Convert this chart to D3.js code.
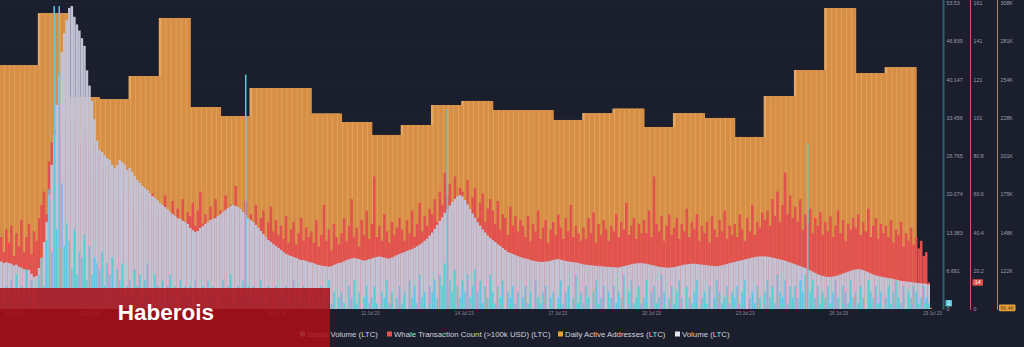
<!DOCTYPE html>
<html><head><meta charset="utf-8">
<script src="https://cdn.jsdelivr.net/npm/d3@7"></script>
<style>
html,body{margin:0;padding:0;background:#1b1e2d;}
svg{display:block}
</style></head><body>
<svg id="c" width="1024" height="347"></svg>
<script>
// ---------------- DATA ----------------
const startUTC = "2023-06-28T18:00:00Z";   // first 2-hour slot
const stepHours = 2;

const dayStarts = ["2023-06-28","2023-06-29","2023-06-30","2023-07-01","2023-07-02","2023-07-03","2023-07-04","2023-07-05","2023-07-06","2023-07-07","2023-07-08","2023-07-09","2023-07-10","2023-07-11","2023-07-12","2023-07-13","2023-07-14","2023-07-15","2023-07-16","2023-07-17","2023-07-18","2023-07-19","2023-07-20","2023-07-21","2023-07-22","2023-07-23","2023-07-24","2023-07-25","2023-07-26","2023-07-27","2023-07-28","2023-07-29"];
const dailyActive = [264900,264900,301000,242700,241300,257300,297600,235800,229500,249000,249000,231300,225400,216400,223300,237200,240000,233700,233700,226800,231600,234700,221900,231600,228200,215000,243400,261500,304500,259400,263500,96400];

// Volume (LTC) – relative units (no axis shown)
const volume = [
15.5,15.0,15.3,
15.0,14.8,14.2,14.5,13.8,13.5,13.0,12.5,12.8,11.5,10.5,10.8,
13.4,16.7,21.9,28.4,37.3,47.1,56.9,66.7,76.5,84.0,90.2,94.4,
98.4,99.0,95.5,93.0,91.0,88.5,86.0,78.0,73.0,68.0,62.0,55.0,
52.0,51.3,50.3,49.3,48.7,47.1,46.1,47.1,48.7,48.0,47.1,45.4,
46.1,44.8,43.5,42.2,41.2,40.2,39.5,38.9,37.9,36.9,36.3,35.6,
34.6,34.0,33.3,32.7,31.7,31.0,30.4,29.7,29.4,28.8,28.4,27.8,
26.5,25.8,25.2,25.5,26.5,27.1,27.8,28.4,29.1,29.4,29.7,30.4,
31.0,31.7,32.4,33.0,33.7,34.0,33.7,33.3,32.7,31.7,30.7,29.7,
29.1,28.4,27.5,26.5,25.5,24.5,23.5,22.5,21.9,21.2,20.6,19.9,
19.3,18.6,18.0,17.6,17.3,17.0,16.7,16.3,16.0,16.0,15.7,15.4,
15.2,15.0,14.6,14.4,14.2,14.0,14.0,13.8,14.0,14.4,14.8,15.0,
15.2,15.6,16.0,16.3,16.5,16.7,16.5,16.3,16.0,15.8,16.0,16.3,
16.5,16.8,17.0,17.2,17.0,16.8,16.6,16.5,16.8,17.2,17.6,18.0,
18.3,18.6,19.0,19.3,19.6,20.0,20.5,21.0,21.6,22.3,23.0,24.0,
25.0,26.2,27.5,28.8,30.0,31.4,32.6,33.8,35.0,36.0,36.8,37.2,
36.8,35.6,34.2,32.7,31.2,29.8,28.4,27.2,26.0,25.0,24.0,23.2,
22.5,21.9,21.2,20.6,19.9,19.3,18.6,18.3,18.0,17.6,17.3,17.0,
16.7,16.5,16.3,16.0,15.8,15.6,15.5,15.4,15.4,15.5,15.6,15.8,
16.0,16.2,16.3,16.1,15.9,15.7,15.5,15.4,15.3,15.2,15.0,14.8,
14.6,14.5,14.4,14.3,14.2,14.1,14.0,14.0,13.9,13.8,13.8,13.7,
13.7,13.6,13.6,13.8,14.0,14.2,14.4,14.6,14.8,14.9,15.0,15.0,
14.9,14.8,14.6,14.4,14.2,14.0,13.8,13.7,13.6,13.5,13.5,13.6,
13.7,13.9,14.1,14.3,14.5,14.6,14.7,14.8,14.8,14.7,14.6,14.5,
14.4,14.3,14.2,14.1,14.0,14.0,14.1,14.3,14.5,14.7,15.0,15.2,
15.4,15.6,15.8,16.0,16.2,16.4,16.6,16.8,17.0,17.1,17.2,17.2,
17.2,17.1,17.0,16.8,16.6,16.4,16.2,16.0,15.8,15.5,15.2,14.9,
14.6,14.3,14.0,13.7,13.4,13.0,12.6,12.2,11.8,11.4,11.0,10.8,
10.6,10.5,10.5,10.6,10.8,11.0,11.3,11.6,11.9,12.2,12.5,12.8,
12.9,13.0,12.9,12.7,12.4,12.0,11.6,11.3,11.0,10.8,10.6,10.4,
10.3,10.1,10.0,9.8,9.6,9.4,9.2,9.1,9.0,8.9,8.8,8.7,
8.6,8.5,8.4,8.3,8.2,8.0];

// Whale Transaction Count (>100k USD)
const whale = [
38,30,42,
35,44,28,40,33,47,30,38,45,29,41,36,
48,55,62,50,78,88,70,95,82,90,76,98,
92,85,100,80,88,72,94,78,84,70,88,76,
82,66,74,58,70,62,55,68,60,72,57,64,
60,52,66,48,58,63,50,57,46,61,53,49,
55,47,60,50,44,57,48,53,42,58,46,51,
49,56,44,52,62,45,50,40,54,47,58,43,
52,46,60,44,55,49,65,47,53,42,57,45,
50,43,55,40,48,52,38,46,54,41,47,39,
44,37,49,35,42,46,34,40,48,36,43,38,
41,35,47,33,39,55,36,42,31,45,38,34,
40,48,36,44,58,38,43,33,47,39,52,37,
45,70,38,44,36,50,41,35,46,39,43,48,
42,36,47,40,52,38,45,56,41,49,44,53,
50,58,46,62,55,72,60,66,52,70,58,64,
62,55,68,50,59,64,48,56,61,46,53,58,
52,45,57,42,50,48,39,54,44,49,41,47,
44,38,49,36,45,41,52,37,43,47,35,42,
46,39,50,43,37,48,41,55,38,44,40,36,
43,37,48,40,51,35,45,39,47,42,36,44,
41,50,38,46,42,56,39,44,48,37,45,40,
47,40,52,38,70,45,41,49,36,44,50,39,
43,48,37,45,41,53,38,46,42,50,36,44,
40,46,35,49,42,38,47,41,52,37,44,39,
45,38,50,42,36,48,41,55,39,46,43,51,
47,52,44,58,49,62,46,55,72,50,60,48,
54,46,58,42,50,45,53,40,48,44,51,39,
46,41,49,38,44,52,40,47,36,45,42,48,
43,50,39,46,41,53,38,44,48,37,45,40,
44,38,47,35,42,39,46,33,40,36,43,34,
38,32,36,28,30,14];

// Social Volume
const social = [
3,1,4,
2,5,0,6,2,4,1,7,3,5,0,3,
6,9,4,12,21,10,53,14,53,22,11,15,
12,7,14,6,10,9,13,5,11,6,9,8,
7,10,4,8,6,9,3,7,5,8,2,4,
5,2,7,4,6,1,5,8,3,0,6,4,
3,5,1,4,6,2,4,0,5,3,4,2,
4,0,5,3,2,4,1,5,2,4,3,0,
3,5,2,4,6,1,3,4,2,5,41,4,
2,4,0,2,5,3,1,4,3,0,4,3,
2,3,4,0,3,5,2,1,2,4,3,0,
2,0,3,1,4,0,2,5,1,3,0,2,
3,1,0,4,2,5,1,3,0,2,4,1,
2,4,1,0,3,2,5,1,3,0,2,4,
1,3,0,5,2,4,1,6,2,3,0,4,
3,5,2,6,4,8,35,5,3,7,4,2,
5,3,6,2,4,7,3,5,1,4,2,6,
3,1,4,2,5,0,3,2,4,1,3,0,
2,4,1,3,0,5,2,1,3,4,0,2,
3,0,2,5,1,3,4,0,2,6,1,3,
1,4,2,0,3,5,1,2,4,0,3,2,
4,1,3,2,6,0,3,5,1,2,4,1,
2,5,0,3,4,1,2,6,3,0,2,4,
1,3,5,2,0,4,2,1,3,5,0,2,
3,1,4,0,2,5,3,1,2,4,1,3,
2,4,1,3,5,0,2,3,1,4,2,0,
3,5,2,4,1,6,3,2,5,1,4,2,
4,2,5,3,6,29,3,5,2,4,1,3,
2,4,1,3,5,2,0,4,3,1,5,2,
3,1,4,2,0,5,3,2,4,1,3,0,
2,4,1,3,5,2,1,4,0,3,2,4,
3,1,2,4,2,1];

// x labels visible in the source (05 Jul is hidden under the watermark there)
const xTickDates  = ["2023-06-29","2023-07-02","2023-07-08","2023-07-11","2023-07-14","2023-07-17","2023-07-20","2023-07-23","2023-07-26","2023-07-29"];
const xTickLabels = ["29 Jun 23","02 Jul 23","08 Jul 23","11 Jul 23","14 Jul 23","17 Jul 23","20 Jul 23","23 Jul 23","26 Jul 23","29 Jul 23"];

const socialTicks  = [0,6.691,13.383,20.074,26.765,33.456,40.147,46.839,53.53];
const socialTickLabels = ["0","6.691","13.383","20.074","26.765","33.456","40.147","46.839","53.53"];
const whaleTicks   = [0,20.2,40.4,60.6,80.8,101,121.2,141.4,161.6];
const whaleTickLabels = ["0","20.2","40.4","60.6","80.8","101","121","141","161"];
const activeTicks  = [122150,148700,175250,201800,228350,254900,281450,308000];
const activeTickLabels = ["122K","148K","175K","201K","228K","254K","281K","308K"];

const legendNames = ["Social Volume (LTC)","Whale Transaction Count (>100k USD) (LTC)","Daily Active Addresses (LTC)","Volume (LTC)"];
const lastLabels = {social:"1", whale:"14", active:"96.4K"};

// ---------------- CHART ----------------
(function(){
const C = {bg:"#1b1e2d", orange:"#d68f45", orangeLight:"#e4a866", red:"#e2514f", gray:"#c3c3d5", cyan:"#5cc7dd"};
const FONT = "Liberation Sans, Arial, sans-serif";
const svg = d3.select("#c");
svg.append("rect").attr("width",1024).attr("height",347).attr("fill",C.bg);

const HOUR = 3600e3, DAY = 24*HOUR;
const t0 = new Date(startUTC).getTime();
const n = volume.length;
const times = d3.range(n).map(i => new Date(t0 + i*stepHours*HOUR));
const x = d3.scaleUtc().domain([new Date(t0), new Date(t0 + n*stepHours*HOUR)]).range([0, 930]);
const slotW = x(new Date(t0 + stepHours*HOUR)) - x(new Date(t0));
const plotTop = 3, plotBottom = 309;
const yVol = d3.scaleLinear().domain([0,100]).range([plotBottom, plotTop]);
const yWhale = d3.scaleLinear().domain([0,161.6]).range([plotBottom, plotTop]);
const ySocial = d3.scaleLinear().domain([0,53.53]).range([plotBottom, plotTop]);
const yActive = d3.scaleLinear().domain([95600,308000]).range([plotBottom, plotTop]);

// very faint grid
svg.append("g").selectAll("line").data(socialTicks.slice(1)).join("line")
  .attr("x1",0).attr("x2",940).attr("y1",d=>Math.round(ySocial(d))+0.5).attr("y2",d=>Math.round(ySocial(d))+0.5)
  .attr("stroke","#1f2232").attr("stroke-width",1);

// Daily active addresses: day blocks with stripes
const dayData = dayStarts.map((d,i)=>({t:new Date(d+"T00:00:00Z").getTime(), v:dailyActive[i]}));
const xMax = x.range()[1];
svg.append("g").selectAll("rect").data(dayData).join("rect")
  .attr("x", d => Math.max(0, x(new Date(d.t))))
  .attr("width", d => Math.max(0, Math.min(xMax, x(new Date(d.t+DAY))) - Math.max(0, x(new Date(d.t)))))
  .attr("y", d => yActive(d.v)).attr("height", d => plotBottom - yActive(d.v))
  .attr("fill", C.orangeLight);
const dayIndexOf = t => dayData.findIndex(d => t >= d.t && t < d.t + DAY);
svg.append("g").selectAll("rect").data(times.filter((d,i)=>i%2===0)).join("rect")
  .attr("x", d => x(d)).attr("width", slotW*2 - 0.7)
  .attr("y", d => yActive(dailyActive[dayIndexOf(d.getTime())]))
  .attr("height", d => plotBottom - yActive(dailyActive[dayIndexOf(d.getTime())]))
  .attr("fill", C.orange);

// Whale, Volume, Social bars
function bars(data, y, color, wf, off){
  svg.append("g").selectAll("rect").data(data).join("rect")
    .attr("x",(d,i)=>x(times[i]) + slotW*off).attr("width", slotW*wf)
    .attr("y", d=>y(d)).attr("height", d=>plotBottom - y(d)).attr("fill", color);
}
bars(whale, yWhale, C.red, 1, 0);
bars(volume, yVol, C.gray, 1, 0);
bars(social, ySocial, C.cyan, 0.6, 0.2);

// Right axes
function rightAxis(xPos, scale, ticks, labels, lineColor, lineW){
  svg.append("line").attr("x1",xPos).attr("x2",xPos).attr("y1",0).attr("y2",plotBottom+1)
    .attr("stroke",lineColor).attr("stroke-width",lineW);
  const g = svg.append("g").attr("transform",`translate(${xPos},0)`)
    .call(d3.axisRight(scale).tickValues(ticks).tickSize(0).tickPadding(3)
      .tickFormat((d,i)=>labels[i]));
  g.select(".domain").remove();
  g.selectAll("text").attr("fill","#9a9eab").attr("font-size","5.3px").attr("font-family",FONT);
}
rightAxis(943.5, ySocial, socialTicks, socialTickLabels, "#2f5f6d", 2);
rightAxis(970.5, yWhale, whaleTicks, whaleTickLabels, "#c45a63", 1);
rightAxis(997.5, yActive, activeTicks, activeTickLabels, "#b58461", 1);

// last value badges
function badge(xl, yc, w, text, fill, tcol){
  svg.append("rect").attr("x",xl).attr("y",yc-3.3).attr("width",w).attr("height",6.6).attr("rx",0.8).attr("fill",fill);
  svg.append("text").attr("x",xl+w/2).attr("y",yc).attr("dy","0.35em").attr("text-anchor","middle")
    .attr("font-size","5.3px").attr("font-family",FONT).attr("fill",tcol).text(text);
}
badge(945.5, ySocial(social[n-1]), 6.5, lastLabels.social, C.cyan, "#ffffff");
badge(972.5, yWhale(whale[n-1]), 10.5, lastLabels.whale, C.red, "#ffffff");
badge(999, yActive(dailyActive[dailyActive.length-1]), 16.5, lastLabels.active, "#e9a23b", "#5a3a10");

// X axis labels (spread evenly across the width by the source chart)
const xLab = d3.scaleUtc().domain([new Date("2023-06-29T00:00:00Z"), new Date("2023-07-29T00:00:00Z")]).range([-4.7, 932]);
const gx = svg.append("g").attr("transform",`translate(0,${plotBottom})`)
  .call(d3.axisBottom(xLab).tickValues(xTickDates.map(d=>new Date(d+"T00:00:00Z"))).tickSize(0).tickPadding(3)
  .tickFormat((d,i)=>xTickLabels[i]));
gx.select(".domain").remove();
gx.selectAll(".tick").filter((d,i)=>i===0).attr("transform","translate(15,0)");
gx.selectAll("text").attr("fill","#8a8e9b").attr("font-size","4.6px").attr("font-family",FONT);

// Legend
const legendColors = [C.cyan, C.red, "#e9a23b", "#e6e6ee"];
const legendX = [300, 387, 558, 675];
const lg = svg.append("g").selectAll("g").data(legendNames).join("g")
  .attr("transform",(d,i)=>`translate(${legendX[i]},334)`);
lg.append("rect").attr("x",0).attr("y",-2.5).attr("width",5).attr("height",5).attr("fill",(d,i)=>legendColors[i]);
lg.append("text").attr("x",7).attr("y",0).attr("dy","0.35em").attr("fill","#d2d3da")
  .attr("font-size","7.8px").attr("font-family",FONT).text(d=>d);

// Watermark banner
svg.append("rect").attr("x",0).attr("y",288).attr("width",330).attr("height",59).attr("fill","#ad0f18").attr("opacity",0.87);
svg.append("text").attr("x",166).attr("y",320).attr("text-anchor","middle").attr("fill","#ffffff")
  .attr("font-size","22.5px").attr("font-weight","bold").attr("font-family",FONT).text("Haberois");
})();
</script>
</body></html>
